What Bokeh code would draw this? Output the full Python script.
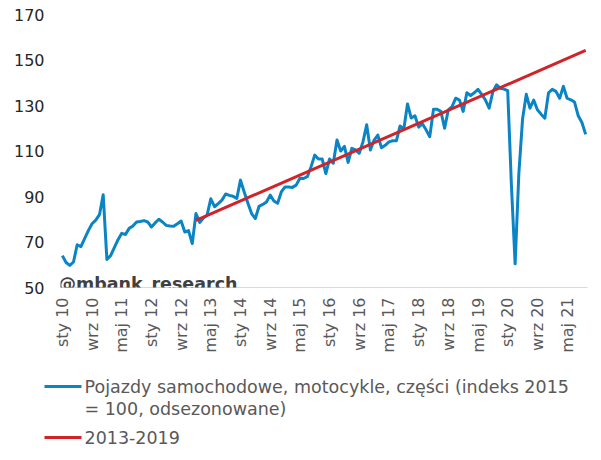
import math
from bokeh.plotting import figure
from bokeh.models import Range1d, FixedTicker, Label
from bokeh.layouts import column
from bokeh.embed import file_html
from bokeh.resources import INLINE
from bokeh.core.properties import value

# ---- data (monthly index, seasonally adjusted, 2015 = 100) ----
month_abbr = ["sty", "lut", "mar", "kwi", "maj", "cze", "lip", "sie", "wrz", "paź", "lis", "gru"]
years = ["10", "11", "12", "13", "14", "15", "16", "17", "18", "19", "20", "21"]

v2010 = [64.0, 61.0, 59.7, 61.2, 68.8, 68.0, 71.5, 75.0, 78.0, 79.6, 82.0, 90.8]
v2011 = [62.3, 64.0, 67.5, 71.0, 73.8, 73.3, 76.0, 77.0, 78.8, 79.0, 79.4, 78.8]
v2012 = [76.6, 78.4, 80.0, 78.8, 77.3, 77.0, 76.9, 78.0, 79.2, 74.4, 75.0, 69.3]
v2013 = [82.5, 78.6, 80.5, 81.8, 89.0, 85.5, 86.9, 88.4, 91.1, 90.5, 90.1, 89.1]
v2014 = [97.2, 92.0, 87.0, 82.5, 80.3, 85.7, 86.5, 87.6, 90.6, 88.0, 87.0, 92.0]
v2015 = [94.2, 94.2, 94.0, 95.0, 98.0, 97.9, 98.7, 103.0, 108.2, 106.5, 106.5, 100.1]
v2016 = [106.5, 104.6, 114.8, 110.0, 112.0, 105.0, 111.2, 110.5, 109.0, 114.0, 121.5, 110.4]
v2017 = [114.8, 117.0, 111.4, 112.5, 114.0, 114.5, 114.5, 121.0, 119.5, 130.7, 124.5, 125.5]
v2018 = [120.5, 122.0, 119.3, 116.3, 128.3, 128.3, 127.4, 120.0, 128.1, 129.5, 133.2, 132.4]
v2019 = [127.4, 135.6, 134.4, 135.6, 137.1, 134.9, 132.4, 128.8, 136.1, 139.1, 137.6, 137.2]
v2020 = [136.5, 95.0, 60.4, 100.0, 124.0, 134.9, 128.8, 132.4, 128.1, 126.2, 124.4, 135.6]
v2021 = [137.1, 136.2, 133.2, 138.4, 133.2, 132.5, 131.5, 125.5, 122.5, 117.3]

# trend 2013-2019 (straight line, start and end of the drawn segment)
trend_labels = ["sty 13", "paź 21"]
trend_values = [79.5, 154.2]

tick_labels = ["sty 10", "wrz 10", "maj 11", "sty 12", "wrz 12", "maj 13", "sty 14", "wrz 14",
               "maj 15", "sty 16", "wrz 16", "maj 17", "sty 18", "wrz 18", "maj 19", "sty 20",
               "wrz 20", "maj 21"]
y_ticks = [50, 70, 90, 110, 130, 150, 170]

series_name = "Pojazdy samochodowe, motocykle, części (indeks 2015"
series_name2 = "= 100, odsezonowane)"
trend_name = "2013-2019"

# ---- assemble ----
values = v2010 + v2011 + v2012 + v2013 + v2014 + v2015 + v2016 + v2017 + v2018 + v2019 + v2020 + v2021
month_labels = [f"{m} {y}" for y in years for m in month_abbr][:len(values)]
xs = list(range(len(values)))
trend_x = [month_labels.index(t) for t in trend_labels]
tick_idx = [month_labels.index(t) for t in tick_labels]

BLUE = "#0b84c6"
RED = "#d0232a"
FONT = "DejaVu Sans"

p = figure(frame_width=527, frame_height=273, x_range=Range1d(-0.5, len(values) - 0.5),
           y_range=Range1d(50, 170), output_backend="svg", toolbar_location=None,
           min_border_left=60, min_border_right=13, min_border_top=14, min_border_bottom=70)
p.frame_align = False
p.outline_line_color = None
p.grid.visible = False
p.background_fill_color = "white"

p.line(xs, values, line_color=BLUE, line_width=3, line_join="round")
p.line(trend_x, trend_values, line_color=RED, line_width=3)

p.yaxis.ticker = FixedTicker(ticks=y_ticks)
p.yaxis.axis_line_color = None
p.yaxis.major_tick_line_color = None
p.yaxis.minor_tick_line_color = None
p.yaxis.major_tick_out = 0
p.yaxis.major_label_standoff = 16
p.yaxis.major_label_text_font = FONT
p.yaxis.major_label_text_font_size = "16px"
p.yaxis.major_label_text_color = "#262626"

p.xaxis.ticker = FixedTicker(ticks=tick_idx)
p.xaxis.major_label_overrides = {i: l for i, l in zip(tick_idx, tick_labels)}
p.xaxis.major_label_orientation = math.pi / 2
p.xaxis.axis_line_color = "#d9d9d9"
p.xaxis.axis_line_width = 1
p.xaxis.major_tick_line_color = None
p.xaxis.minor_tick_line_color = None
p.xaxis.major_tick_out = 0
p.xaxis.major_label_standoff = 10
p.xaxis.major_label_text_font = FONT
p.xaxis.major_label_text_font_size = "16px"
p.xaxis.major_label_text_color = "#595959"

wm = Label(x=-0.5, y=50, x_offset=-2, y_offset=4, text="@mbank_research",
           text_font=FONT, text_font_style="bold", text_font_size="17.5px",
           text_color="#404040", text_baseline="alphabetic")
p.add_layout(wm)

# ---- legend below ----
lf = figure(width=600, height=103, x_range=Range1d(0, 600), y_range=Range1d(103, 0),
            output_backend="svg", toolbar_location=None, min_border=0,
            min_border_left=0, min_border_right=0, min_border_top=0, min_border_bottom=0,
            x_axis_location=None, y_axis_location=None)
lf.frame_align = False
lf.outline_line_color = None
lf.grid.visible = False
lf.line([44, 81], [29, 29], line_color=BLUE, line_width=3)
lf.line([44, 81], [80, 80], line_color=RED, line_width=3)
lf.text(x=[84, 84, 84], y=[29, 51, 80], text=[series_name, series_name2, trend_name],
        text_font=value(FONT), text_font_size="17.5px", text_color="#595959",
        text_baseline="middle", text_align="left")

layout = column(p, lf, spacing=0)
open("out.html", "w").write(file_html(layout, INLINE))
